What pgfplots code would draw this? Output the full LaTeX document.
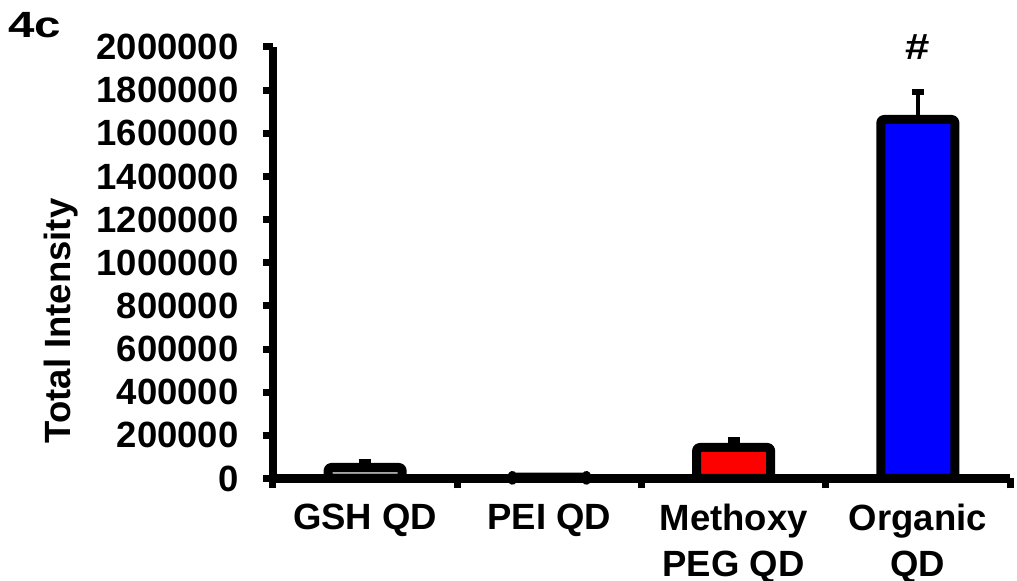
\documentclass[border=0pt]{standalone}
\usepackage{pgfplots}
\pgfplotsset{compat=1.18}
\usepackage{fontspec}
\setmainfont{Liberation Sans}
\newcommand{\ff}{\fontsize{18.25}{23}\selectfont\bfseries}
\begin{document}
\begin{tikzpicture}
\path[use as bounding box] (-136.5pt,-51.25pt) rectangle (372pt,239.25pt);
\begin{axis}[
  scale only axis, width=368.5pt, height=215.75pt,
  at={(0,0)}, anchor=south west,
  xmin=0, xmax=4, ymin=0, ymax=2000000,
  axis x line*=bottom, axis y line*=left,
  axis line style={line width=4.3pt, black},
  tick style={line width=3.5pt, black},
  tick align=outside, major tick length=5pt,
  xtick={0,1,2,3,4},
  x tick label as interval,
  xticklabels={GSH QD, PEI QD, {Methoxy\\PEG QD}, {Organic\\QD}},
  xticklabel style={font=\ff, align=center, anchor=north, yshift=-4pt},
  ytick={0,200000,400000,600000,800000,1000000,1200000,1400000,1600000,1800000,2000000},
  yticklabels={0,200000,400000,600000,800000,1000000,1200000,1400000,1600000,1800000,2000000},
  yticklabel style={font=\ff, anchor=east, inner sep=0pt, xshift=-12pt},
  scaled y ticks=false,
  clip=false,
  every axis plot/.append style={ybar, bar width=37pt, bar shift=0pt, draw=black, line width=4.5pt,
    rounded corners=1.5pt, line join=round},
  error bars/error bar style={line width=2pt, black, line join=miter},
  error bars/error mark options={rotate=90, line width=3pt, mark size=3pt, black},
]
\addplot[fill=gray!70,
  error bars/.cd, y dir=plus, y explicit]
  coordinates {(0.5,51000) +- (0,25500)};
\addplot[fill=white]
  coordinates {(1.5,6000)};
\addplot[fill=red,
  error bars/.cd, y dir=plus, y explicit]
  coordinates {(2.5,143700) +- (0,34700)};
\addplot[fill=blue,
  error bars/.cd, y dir=plus, y explicit]
  coordinates {(3.5,1664000) +- (0,127000)};
\node[font=\ff, inner sep=0pt, xscale=1.2] at (axis cs:3.5,2000000) {\#};
\node[font=\ff, inner sep=0pt, anchor=base west, xscale=1.3] at (rel axis cs:-0.3596,1.023) {4c};
\node[font=\ff, inner sep=0pt, rotate=90, anchor=center] at (rel axis cs:-0.287,0.365) {Total Intensity};
\end{axis}
\end{tikzpicture}
\end{document}
